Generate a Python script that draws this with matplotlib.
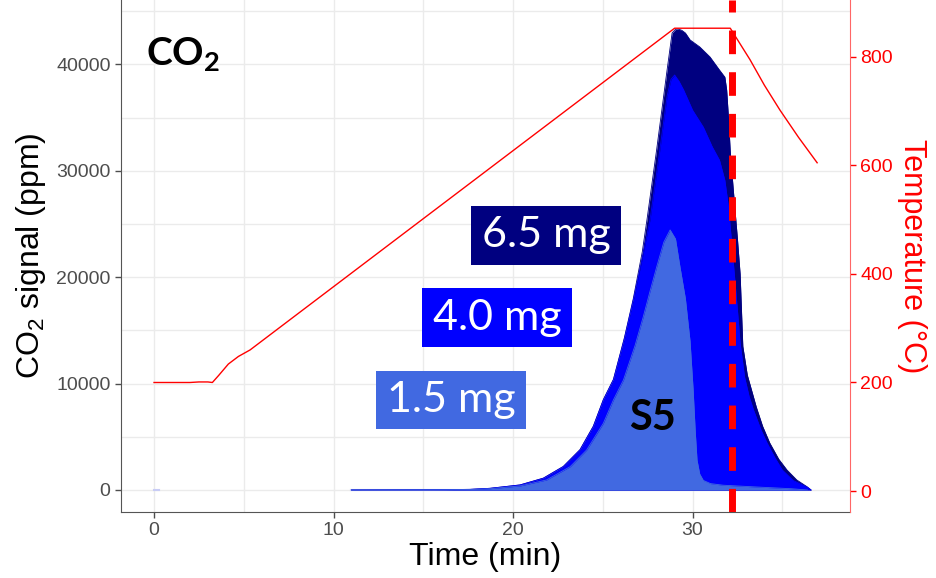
import numpy as np
import matplotlib.pyplot as plt

plt.rcParams['font.family'] = ['Liberation Sans', 'DejaVu Sans']
plt.rcParams['mathtext.fontset'] = 'custom'
plt.rcParams['mathtext.rm'] = 'Liberation Sans'
plt.rcParams['mathtext.it'] = 'Liberation Sans:italic'
plt.rcParams['mathtext.bf'] = 'Lato:bold'

# temperature program (min, degC)
temp_t = [0.0, 2.0, 2.5, 3.0, 3.25, 3.6, 4.14, 4.7, 5.35, 29.0, 32.1, 33.2, 34.0, 34.87, 35.9, 36.94]
temp_v = [200, 200, 201, 201, 200, 213, 234, 248, 260, 853, 853, 795, 748, 702, 652, 605]

# CO2 signal, 6.5 mg
t_65 = [11.0, 15.0, 17.6, 18.72, 20.39, 21.69, 22.8, 23.73, 24.47, 25.03, 25.59, 26.2,
        26.7, 27.2, 27.46, 28.0, 28.58, 28.86, 29.05, 29.2, 29.4, 29.6, 29.86, 30.4, 30.97,
        31.5, 31.8, 31.9, 32.0, 32.1, 32.27, 32.5, 32.65, 32.8, 33.05, 33.3, 33.55, 33.9,
        34.3, 34.8, 35.26, 35.8, 36.4, 36.6]
v_65 = [0, 20, 60, 160, 480, 1120, 2220, 3800, 6000, 8500, 10400, 14300,
        18000, 22400, 25400, 32000, 39470, 42950, 43300, 43330, 43200, 42950, 42300, 41640, 40700,
        39470, 38800, 37600, 35000, 31800, 28200, 23600, 20300, 13500, 10800, 9300, 7800, 6000,
        4420, 2900, 1880, 950, 280, 0]

# CO2 signal, 4.0 mg
t_40 = [11.0, 15.0, 17.6, 18.72, 20.39, 21.69, 22.8, 23.73, 24.47, 25.03, 25.59, 26.2,
        26.7, 27.2, 27.63, 28.1, 28.58, 28.8, 29.0, 29.25, 29.5, 30.0, 30.6, 31.1, 31.5,
        31.8, 32.0, 32.26, 32.5, 32.65, 32.9, 33.15, 33.4, 33.8, 34.15, 34.6, 35.0, 35.6,
        36.4, 36.6]
v_40 = [0, 20, 60, 160, 470, 1100, 2190, 3760, 5950, 8460, 10340, 14200,
        17860, 21800, 25400, 31000, 37000, 38600, 39000, 38400, 37600, 35700, 34100, 32240, 31000,
        29100, 26600, 21600, 16900, 13800, 10600, 8800, 7500, 5700, 4420, 3000, 1880, 900,
        250, 0]

# CO2 signal, 1.5 mg
t_15 = [11.0, 15.0, 17.6, 18.72, 20.39, 21.86, 23.18, 24.1, 25.03, 25.59, 26.15, 26.8,
        27.25, 27.65, 28.0, 28.4, 28.75, 29.05, 29.3, 29.6, 29.86, 30.03, 30.15, 30.25,
        30.4, 30.6, 31.0, 31.7, 33.6, 35.5, 36.4]
v_15 = [0, 15, 40, 120, 380, 940, 2190, 3760, 6270, 8460, 10340, 13600,
        16260, 18800, 20960, 23300, 24440, 23600, 20960, 18000, 14000, 9500, 5500, 2800,
        1500, 900, 600, 450, 280, 120, 0]

masses = ['6.5 mg', '4.0 mg', '1.5 mg']
colours = ['#000080', '#0000FF', '#4169E1']
end_time = 32.18

fig = plt.figure(figsize=(9.36, 5.78), dpi=100)
ax = fig.add_axes([121 / 936, 66 / 578, 729 / 936, 512 / 578])
ax2 = ax.twinx()

grid_c = '#EBEBEB'
for xv in np.arange(0, 40, 5):
    ax.axvline(xv, color=grid_c, lw=1, zorder=0)
for yv in np.arange(0, 50000, 5000):
    ax.axhline(yv, color=grid_c, lw=1, zorder=0)

series = [(t_65, v_65), (t_40, v_40), (t_15, v_15)]
for (t, v), c in zip(series, colours):
    ax.fill_between(t, 0, v, color=c, lw=0, zorder=2)
    ax.plot(t, v, color=c, lw=0.6, zorder=2)
ax.plot([0, 0.25], [0, 0], color='#C8CCF5', lw=1.5, zorder=2)
ax.plot([11.0, 36.4], [0, 0], color='#C8CCF5', lw=1.5, zorder=1.9)

ax.axvline(end_time, color='#FF0000', lw=5, dashes=(3.4, 2.6), zorder=4)

ax.set_xlim(-1.84, 38.77)
ax.set_ylim(-2068, 46050)
ax.set_xticks([0, 10, 20, 30])
ax.set_yticks([0, 10000, 20000, 30000, 40000])
ax.tick_params(axis='both', labelsize=14, labelcolor='#4D4D4D', color='#4D4D4D', length=4, width=1)
ax.set_xlabel('Time (min)', fontsize=23, labelpad=2)
ax.set_ylabel('CO$_2$ signal (ppm)', fontsize=23, labelpad=6)
for s in ['top', 'right']:
    ax.spines[s].set_visible(False)
for s in ['left', 'bottom']:
    ax.spines[s].set_color('#555555')

ax2.plot(temp_t, temp_v, color='#FF0000', lw=1, zorder=5)
ax2.set_ylim(-38.7, 905)
ax2.set_yticks([0, 200, 400, 600, 800])
ax2.tick_params(axis='y', labelsize=14, labelcolor='#FF0000', color='#FF0000', length=4, width=1)
ax2.set_ylabel('Temperature (°C)', fontsize=22, color='#FF0000', rotation=270, labelpad=24)
for s in ['top', 'left', 'bottom']:
    ax2.spines[s].set_visible(False)
ax2.spines['right'].set_color('#FF6666')

label_pos = [(21.84, 23920), (19.1, 16210), (16.55, 8460)]
for m, c, (lx, ly) in zip(masses, colours, label_pos):
    ax.text(lx, ly, m, color='white', fontsize=31, family='Lato', ha='center', va='center',
            zorder=6, bbox=dict(boxstyle='square,pad=0.24', fc=c, ec='none'))

ax.text(-0.45, 41000, r'$\mathbf{CO_2}$', fontsize=28, ha='left', va='center', zorder=6)
ax.text(27.75, 6770, 'S5', fontsize=30, family='Lato', fontweight='bold', ha='center', va='center', zorder=6)

fig.savefig('out.png', dpi=100)
